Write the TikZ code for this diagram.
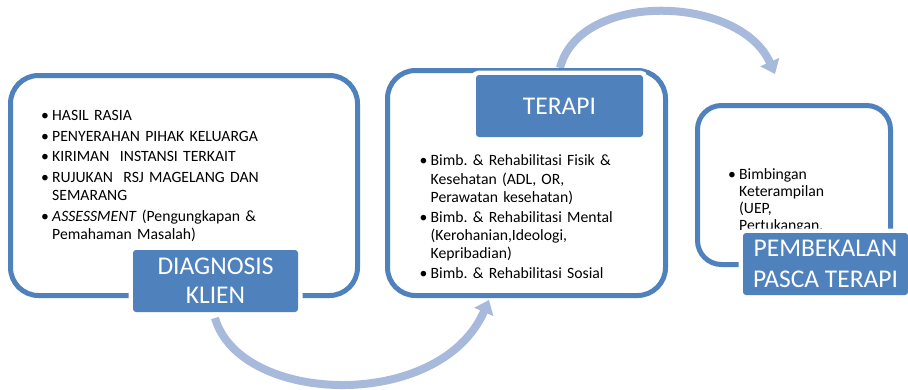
\documentclass[tikz,border=0pt]{standalone}
\usepackage{fontspec}
\setmainfont{Carlito}
\usetikzlibrary{arrows.meta}
\definecolor{boxblue}{HTML}{4F81BD}
\definecolor{arcblue}{HTML}{A8BADB}
\newcommand{\bitem}[1]{\par\noindent\hangindent=11pt\hangafter=1\makebox[11pt][l]{\textbullet}#1}
\newcommand{\nl}{\hfil\break}
\tikzset{
  outline/.style={draw=boxblue, line width=5pt, fill=white, rounded corners=28pt},
  tag/.style={fill=boxblue, text=white, rounded corners=3pt, inner sep=0pt,
     minimum width=165pt, minimum height=62pt, align=center,
     font=\fontsize{25.5}{29}\selectfont,
     preaction={draw=white, line width=9pt}},
  bullets/.style={anchor=north west, inner sep=0pt,
     font=\fontsize{15.7}{18.5}\selectfont\frenchspacing}
}
\tikzset{flow/.style={draw=arcblue, line width=8pt, -{Triangle[length=13pt,width=20pt]}}}
\begin{document}
\begin{tikzpicture}[x=1pt,y=-1pt]
\useasboundingbox (0,0) rectangle (908,389);
% arrows (behind boxes)
\coordinate (a1s) at (215,318);
\coordinate (a1e) at (489,300);
\coordinate (a2s) at (560,68);
\coordinate (a2e) at (775,74);
\draw[flow] (a1s) .. controls (240,405) and (440,412) .. (a1e);
\draw[flow] (a2s) .. controls (580,-10) and (740,-5) .. (a2e);
% boxes
\draw[outline] (10.5,75.5) rectangle (357.5,295.5);
\draw[outline] (387.5,70.5) rectangle (665.5,295.5);
\draw[outline, rounded corners=24pt] (697.5,105.5) rectangle (890.5,264.5);
% texts
\node[bullets, text width=300pt] (t1) at (41,100) {\raggedright
\setlength{\parskip}{2pt}%
\bitem{HASIL RASIA}
\bitem{PENYERAHAN PIHAK KELUARGA}
\bitem{KIRIMAN\ \ INSTANSI TERKAIT}
\bitem{RUJUKAN\ \ RSJ MAGELANG DAN\nl SEMARANG}
\bitem{\textit{ASSESSMENT} (Pengungkapan \&\nl Pemahaman Masalah)}\par};
\node[bullets, text width=230pt, font=\fontsize{15.7}{18.2}\selectfont\frenchspacing] (t2) at (419.5,146) {\raggedright
\setlength{\parskip}{1.5pt}%
\bitem{Bimb. \& Rehabilitasi Fisik \&\nl Kesehatan (ADL, OR,\nl Perawatan kesehatan)}
\bitem{Bimb. \& Rehabilitasi Mental\nl (Kerohanian,Ideologi,\nl Kepribadian)}
\bitem{Bimb. \& Rehabilitasi Sosial}\par};
\node[bullets, text width=140pt, font=\fontsize{15.7}{17}\selectfont\frenchspacing] (t3) at (728,162) {\raggedright
\bitem{Bimbingan\nl Keterampilan\nl (UEP,\nl Pertukangan.}\par};
% tags
\node[tag] (l1) at (215.5,281) {DIAGNOSIS\\KLIEN};
\node[tag, minimum width=167pt] (l2) at (559.5,106) {TERAPI};
\node[tag, font=\fontsize{25.5}{31}\selectfont] (l3) at (825.5,264) {PEMBEKALAN\\PASCA TERAPI};
\end{tikzpicture}
\end{document}
